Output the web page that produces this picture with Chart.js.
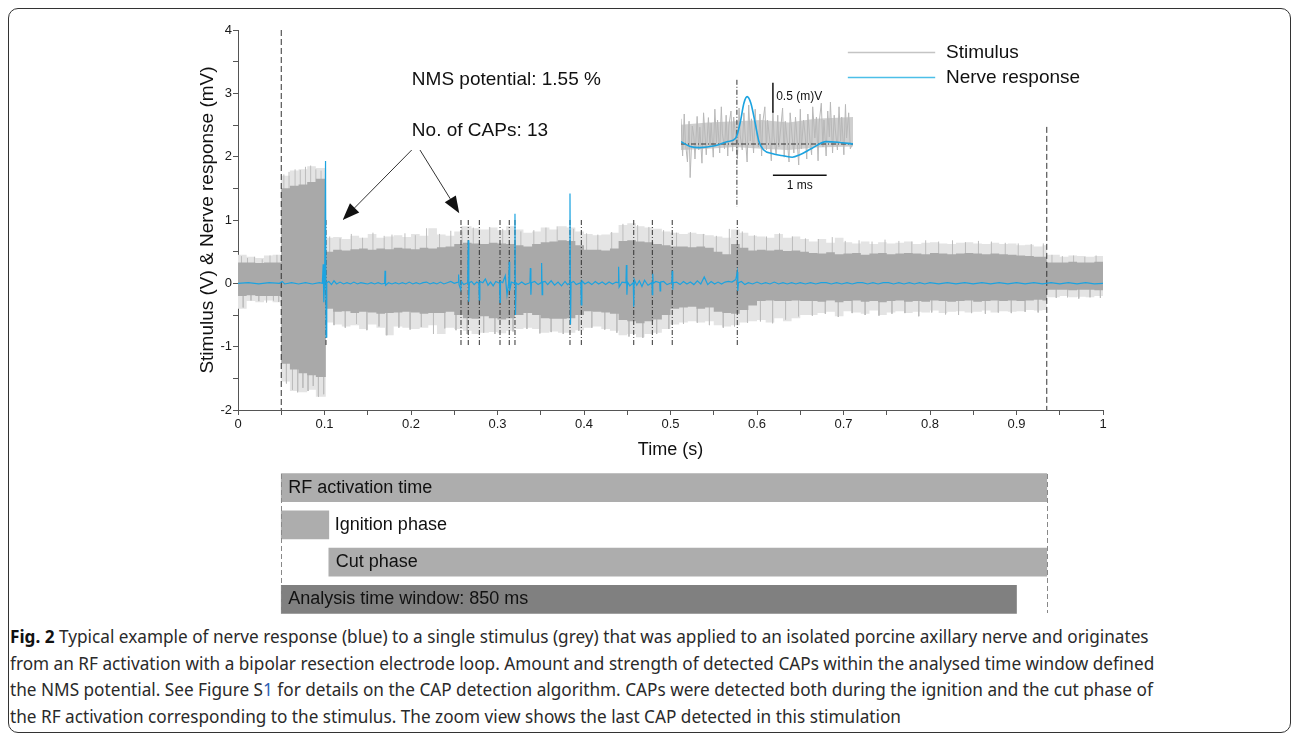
<!DOCTYPE html>
<html>
<head>
<meta charset="utf-8">
<script src="https://cdn.jsdelivr.net/npm/chart.js@4.4.0/dist/chart.umd.min.js"></script>
<style>
  html, body { margin: 0; padding: 0; background: #fff; }
  body { width: 1292px; height: 738px; position: relative; overflow: hidden; }
  .frame { position: absolute; left: 8px; top: 8px; width: 1283px; height: 725px; border: 1.5px solid #333; border-radius: 10px; box-sizing: border-box; }
  canvas { position: absolute; }
  #main { left: 0; top: 0; }
  #inset { left: 681px; top: 72px; }
  #phases { left: 0; top: 469px; }
  .caption { position: absolute; left: 10px; top: 624px; font-family: "Noto Sans", "Open Sans", sans-serif; font-size: 17.2px; line-height: 26.7px; color: #2a2a2a; white-space: nowrap; }
  .caption b { color: #111; }
  .caption .link { color: #2b5fb4; }
</style>
</head>
<body>
<div class="frame"></div>
<canvas id="main" width="1130" height="465"></canvas>
<canvas id="inset" width="172" height="144"></canvas>
<canvas id="phases" width="1130" height="149"></canvas>
<div class="caption"><b>Fig. 2</b> Typical example of nerve response (blue) to a single stimulus (grey) that was applied to an isolated porcine axillary nerve and originates<br>from an RF activation with a bipolar resection electrode loop. Amount and strength of detected CAPs within the analysed time window defined<br>the NMS potential. See Figure S<span class="link">1</span> for details on the CAP detection algorithm. CAPs were detected both during the ignition and the cut phase of<br>the RF activation corresponding to the stimulus. The zoom view shows the last CAP detected in this stimulation</div>

<script>
// ---- stimulus envelope (V) ----
const stimTime = [
  0, 0.01, 0.02, 0.03, 0.04,
  0.05, 0.06, 0.07, 0.08, 0.09,
  0.1015,
  0.11, 0.12, 0.13, 0.14, 0.15, 0.16, 0.17, 0.18, 0.19, 0.20,
  0.21, 0.22, 0.23, 0.24, 0.25, 0.26, 0.27, 0.28, 0.29, 0.30,
  0.31, 0.32, 0.33, 0.34, 0.35, 0.36, 0.37, 0.38, 0.39, 0.40,
  0.41, 0.42, 0.43, 0.44, 0.45, 0.46, 0.47, 0.48, 0.49, 0.50,
  0.51, 0.52, 0.53, 0.54, 0.55, 0.56, 0.57, 0.58, 0.59, 0.60,
  0.61, 0.62, 0.63, 0.64, 0.65, 0.66, 0.67, 0.68, 0.69, 0.70,
  0.71, 0.72, 0.73, 0.74, 0.75, 0.76, 0.77, 0.78, 0.79, 0.80,
  0.81, 0.82, 0.83, 0.84, 0.85, 0.86, 0.87, 0.88, 0.89, 0.90,
  0.91, 0.92, 0.93,
  0.935, 0.95, 0.96, 0.97, 0.98, 0.99, 1.0
];
const stimCoreHigh = [
  0.33, 0.33, 0.32, 0.33, 0.33,
  1.50, 1.54, 1.56, 1.60, 1.65,
  0.50,
  0.53, 0.52, 0.54, 0.55, 0.53, 0.55, 0.54, 0.56, 0.55, 0.54,
  0.56, 0.55, 0.57, 0.58, 0.62, 0.64, 0.63, 0.62, 0.64, 0.63,
  0.62, 0.60, 0.58, 0.62, 0.65, 0.66, 0.68, 0.67, 0.60, 0.53,
  0.53, 0.52, 0.55, 0.67, 0.68, 0.66, 0.65, 0.62, 0.60, 0.58,
  0.58, 0.57, 0.58, 0.56, 0.50, 0.46, 0.62, 0.56, 0.52, 0.53,
  0.52, 0.53, 0.51, 0.52, 0.50, 0.48, 0.47, 0.49, 0.46, 0.47,
  0.48, 0.45, 0.47, 0.48, 0.46, 0.47, 0.48, 0.47, 0.46, 0.48,
  0.47, 0.46, 0.47, 0.48, 0.47, 0.46, 0.47, 0.46, 0.45, 0.44,
  0.43, 0.42, 0.42,
  0.33, 0.33, 0.34, 0.33, 0.33, 0.34, 0.33
];
const stimCoreLow = [
  -0.20, -0.19, -0.20, -0.20, -0.20,
  -1.27, -1.36, -1.42, -1.45, -1.48,
  -0.40,
  -0.45, -0.44, -0.47, -0.45, -0.46, -0.48, -0.47, -0.46, -0.45, -0.46,
  -0.48, -0.47, -0.47, -0.45, -0.50, -0.55, -0.56, -0.52, -0.55, -0.57,
  -0.55, -0.50, -0.47, -0.50, -0.55, -0.56, -0.56, -0.55, -0.50, -0.44,
  -0.45, -0.46, -0.48, -0.58, -0.60, -0.63, -0.60, -0.57, -0.50, -0.40,
  -0.38, -0.37, -0.40, -0.38, -0.45, -0.47, -0.48, -0.42, -0.35, -0.28,
  -0.27, -0.28, -0.28, -0.27, -0.28, -0.28, -0.29, -0.27, -0.30, -0.28,
  -0.27, -0.29, -0.28, -0.30, -0.28, -0.27, -0.29, -0.28, -0.29, -0.27,
  -0.28, -0.29, -0.28, -0.27, -0.29, -0.28, -0.27, -0.28, -0.27, -0.28,
  -0.27, -0.26, -0.27,
  -0.10, -0.10, -0.11, -0.10, -0.10, -0.11, -0.10
];
const stimPeakHigh = [
  0.45, 0.42, 0.40, 0.44, 0.45,
  1.70, 1.78, 1.80, 1.85, 1.82,
  0.72,
  0.73, 0.70, 0.75, 0.72, 0.78, 0.72, 0.74, 0.76, 0.73, 0.78,
  0.75, 0.87, 0.77, 0.75, 0.82, 0.90, 0.87, 0.85, 0.88, 0.84,
  0.90, 0.85, 0.80, 0.82, 0.88, 0.85, 0.90, 0.88, 0.82, 0.78,
  0.76, 0.77, 0.80, 0.92, 0.95, 0.90, 0.88, 0.86, 0.82, 0.80,
  0.78, 0.80, 0.78, 0.76, 0.74, 0.72, 0.85, 0.80, 0.75, 0.74,
  0.72, 0.78, 0.72, 0.74, 0.70, 0.66, 0.70, 0.64, 0.72, 0.65,
  0.63, 0.66, 0.62, 0.65, 0.63, 0.64, 0.66, 0.62, 0.64, 0.65,
  0.63, 0.62, 0.64, 0.65, 0.63, 0.62, 0.64, 0.62, 0.63, 0.60,
  0.61, 0.58, 0.60,
  0.45, 0.42, 0.44, 0.43, 0.42, 0.43, 0.42
];
const stimPeakLow = [
  -0.40, -0.28, -0.30, -0.27, -0.30,
  -1.55, -1.70, -1.72, -1.68, -1.79,
  -0.62,
  -0.65, -0.68, -0.66, -0.72, -0.65, -0.70, -0.82, -0.68, -0.70, -0.72,
  -0.70, -0.66, -0.80, -0.70, -0.72, -0.75, -0.80, -0.78, -0.77, -0.79,
  -0.75, -0.72, -0.70, -0.72, -0.78, -0.76, -0.78, -0.78, -0.74, -0.70,
  -0.68, -0.72, -0.75, -0.82, -0.80, -0.85, -0.80, -0.78, -0.72, -0.65,
  -0.62, -0.60, -0.62, -0.60, -0.66, -0.68, -0.66, -0.62, -0.60, -0.58,
  -0.62, -0.55, -0.60, -0.55, -0.50, -0.50, -0.47, -0.45, -0.52, -0.44,
  -0.46, -0.48, -0.43, -0.50, -0.46, -0.44, -0.47, -0.45, -0.46, -0.43,
  -0.47, -0.45, -0.44, -0.46, -0.45, -0.43, -0.46, -0.44, -0.45, -0.44,
  -0.42, -0.43, -0.42,
  -0.22, -0.20, -0.22, -0.21, -0.22, -0.20, -0.20
];
// single outlying stimulus samples (s, V)
const spikeTime = [
  0.004, 0.006, 0.011, 0.015, 0.019, 0.024, 0.028, 0.033, 0.037, 0.041,
  0.045, 0.047, 0.053, 0.056, 0.059, 0.063, 0.066, 0.069, 0.072, 0.075,
  0.078, 0.081, 0.084, 0.087, 0.090, 0.093, 0.096, 0.099, 0.106, 0.111,
  0.118, 0.124, 0.131, 0.137, 0.144, 0.149, 0.156, 0.163, 0.169, 0.172,
  0.178, 0.186, 0.193, 0.199, 0.205, 0.212, 0.218, 0.226, 0.233, 0.239,
  0.246, 0.252, 0.259, 0.265, 0.272, 0.284, 0.291, 0.297, 0.306, 0.318,
  0.327, 0.334, 0.342, 0.349, 0.356, 0.362, 0.369, 0.376, 0.388, 0.394,
  0.403, 0.409, 0.416, 0.424, 0.432, 0.438, 0.445, 0.452, 0.462, 0.468,
  0.475, 0.484, 0.492, 0.498, 0.507, 0.515, 0.523, 0.531, 0.538, 0.545,
  0.553, 0.561, 0.568, 0.574, 0.583, 0.589, 0.597, 0.604, 0.611, 0.618,
  0.626, 0.633, 0.641, 0.648, 0.656, 0.664, 0.671, 0.679, 0.687, 0.694,
  0.702, 0.710, 0.718, 0.725, 0.733, 0.741, 0.748, 0.756, 0.764, 0.771,
  0.779, 0.787, 0.795, 0.802, 0.810, 0.818, 0.826, 0.833, 0.841, 0.848,
  0.856, 0.864, 0.871, 0.879, 0.887, 0.894, 0.902, 0.910, 0.917, 0.925,
  0.931, 0.941, 0.946, 0.953, 0.959, 0.966, 0.972, 0.979, 0.985, 0.992,
  0.997
];
const spikeValue = [
  0.43, -0.38, 0.40, -0.27, 0.42, -0.28, 0.38, -0.30, 0.44, -0.27,
  0.45, -0.29, 1.72, -1.58, 1.76, -1.68, 1.80, -1.72, 1.79, -1.65,
  1.84, -1.70, 1.86, -1.62, 1.80, -1.79, 1.78, -1.75, 0.74, -0.66,
  0.71, -0.70, 0.78, -0.64, 0.72, -0.74, 0.80, -0.68, 0.75, -0.82,
  0.77, -0.70, 0.79, -0.73, 0.76, -0.69, 0.87, -0.80, 0.78, -0.71,
  0.83, -0.74, 0.90, -0.80, 0.88, -0.78, 0.89, -0.80, 0.86, -0.76,
  0.82, -0.72, 0.84, -0.79, 0.88, -0.77, 0.90, -0.80, 0.86, -0.75,
  0.79, -0.70, 0.77, -0.73, 0.81, -0.78, 0.94, -0.84, 0.92, -0.86,
  0.89, -0.80, 0.84, -0.72, 0.80, -0.64, 0.81, -0.62, 0.78, -0.66,
  0.75, -0.70, 0.86, -0.68, 0.82, -0.62, 0.76, -0.60, 0.74, -0.63,
  0.79, -0.57, 0.74, -0.52, 0.71, -0.51, 0.70, -0.48, 0.73, -0.53,
  0.67, -0.47, 0.68, -0.50, 0.66, -0.51, 0.69, -0.48, 0.67, -0.47,
  0.66, -0.52, 0.68, -0.46, 0.66, -0.49, 0.68, -0.50, 0.65, -0.47,
  0.67, -0.48, 0.66, -0.46, 0.64, -0.47, 0.63, -0.45, 0.62, -0.46,
  0.63, 0.45, -0.23, 0.43, -0.22, 0.44, -0.24, 0.42, -0.22, 0.44,
  -0.23
];

// ---- nerve response (mV) ----
const nerveTime = [
  0.000, 0.012, 0.024, 0.036, 0.048, 0.051, 0.054, 0.062, 0.070, 0.078,
  0.086, 0.094, 0.0975, 0.0985, 0.0992, 0.1002, 0.1012, 0.1018, 0.1026, 0.105,
  0.108, 0.111, 0.114, 0.118, 0.122, 0.126, 0.130, 0.134, 0.138, 0.142,
  0.146, 0.150, 0.154, 0.158, 0.162, 0.166, 0.1695, 0.1700, 0.1706, 0.174,
  0.178, 0.182, 0.186, 0.190, 0.194, 0.198, 0.202, 0.206, 0.210, 0.214,
  0.218, 0.222, 0.226, 0.230, 0.234, 0.238, 0.242, 0.246, 0.250, 0.2545,
  0.2550, 0.2556, 0.2575, 0.2582, 0.261, 0.2656, 0.2662, 0.2668, 0.2675, 0.270,
  0.273, 0.276, 0.2785, 0.2790, 0.2796, 0.283, 0.286, 0.289, 0.292, 0.295,
  0.298, 0.3024, 0.3029, 0.3034, 0.306, 0.309, 0.311, 0.3130, 0.3136, 0.3141,
  0.3160, 0.3196, 0.3202, 0.3208, 0.3215, 0.324, 0.328, 0.332, 0.3375, 0.3380,
  0.3386, 0.3392, 0.343, 0.347, 0.3505, 0.3510, 0.3516, 0.3522, 0.355, 0.358,
  0.362, 0.366, 0.370, 0.374, 0.378, 0.381, 0.3832, 0.3838, 0.3844, 0.3850,
  0.388, 0.391, 0.3964, 0.3969, 0.3975, 0.401, 0.405, 0.409, 0.413, 0.417,
  0.421, 0.425, 0.429, 0.433, 0.437, 0.4395, 0.4400, 0.4406, 0.444, 0.4485,
  0.4490, 0.4496, 0.4503, 0.453, 0.4570, 0.4575, 0.4580, 0.461, 0.464, 0.467,
  0.470, 0.474, 0.4785, 0.4790, 0.4795, 0.4800, 0.483, 0.4875, 0.4880, 0.4886,
  0.492, 0.496, 0.5015, 0.5020, 0.5026, 0.5032, 0.507, 0.511, 0.515, 0.519,
  0.523, 0.527, 0.531, 0.535, 0.539, 0.543, 0.547, 0.551, 0.555, 0.559,
  0.563, 0.567, 0.571, 0.5755, 0.5772, 0.5778, 0.5785, 0.582, 0.586, 0.590,
  0.595, 0.600, 0.605, 0.610, 0.615, 0.620, 0.625, 0.630, 0.635, 0.640,
  0.645, 0.650, 0.656, 0.662, 0.668, 0.674, 0.680, 0.686, 0.692, 0.698,
  0.704, 0.710, 0.716, 0.722, 0.728, 0.734, 0.740, 0.746, 0.752, 0.758,
  0.764, 0.770, 0.776, 0.782, 0.788, 0.794, 0.800, 0.810, 0.820, 0.830,
  0.840, 0.850, 0.860, 0.870, 0.880, 0.890, 0.900, 0.910, 0.920, 0.930,
  0.940, 0.950, 0.960, 0.970, 0.980, 0.990, 1.000
];
const nerveValue = [
  0.00, 0.01, -0.01, 0.01, 0.00, 0.03, -0.01, 0.01, -0.01, 0.01,
  -0.01, 0.01, 0.00, 0.30, -0.30, 0.03, 1.93, -0.85, 0.01, 0.03,
  -0.02, 0.04, -0.01, 0.02, -0.01, 0.01, -0.01, 0.02, -0.01, 0.01,
  0.00, -0.01, 0.01, -0.01, 0.01, -0.01, 0.00, 0.20, -0.03, 0.01,
  -0.01, 0.01, -0.01, 0.01, -0.01, 0.02, -0.01, 0.01, -0.01, 0.01,
  0.02, -0.01, 0.01, -0.01, 0.02, -0.01, 0.01, 0.03, 0.00, 0.02,
  0.14, -0.02, -0.10, 0.03, -0.02, 0.01, 0.68, -0.29, 0.01, 0.03,
  -0.02, 0.02, 0.00, -0.26, 0.03, 0.01, 0.07, -0.03, 0.02, -0.04,
  0.03, 0.00, -0.30, 0.03, 0.01, 0.12, -0.18, 0.01, 0.34, -0.12,
  0.02, 0.00, 1.10, -0.50, 0.01, -0.02, 0.02, -0.02, 0.01, 0.24,
  -0.18, 0.01, 0.03, -0.02, 0.01, 0.32, -0.18, 0.02, 0.03, -0.02,
  0.04, -0.03, 0.02, -0.04, 0.03, -0.02, 0.00, 1.42, -0.65, 0.01,
  0.03, -0.02, 0.01, -0.34, 0.04, -0.01, 0.02, -0.02, 0.03, -0.01,
  0.02, -0.02, 0.02, -0.01, 0.02, 0.01, 0.26, -0.06, 0.02, 0.01,
  0.29, -0.18, 0.02, -0.04, 0.01, -0.37, 0.06, -0.03, 0.04, -0.05,
  0.05, -0.03, 0.01, -0.18, 0.15, 0.00, 0.03, 0.01, -0.12, 0.02,
  0.03, -0.02, 0.01, 0.20, -0.10, 0.01, 0.02, -0.02, 0.03, -0.01,
  0.02, -0.02, 0.04, -0.01, 0.10, -0.02, 0.03, -0.01, 0.02, -0.01,
  0.02, 0.03, 0.02, 0.06, 0.18, -0.12, 0.01, 0.03, -0.02, 0.01,
  -0.01, 0.02, -0.01, 0.01, -0.01, 0.02, -0.01, 0.01, -0.01, 0.01,
  -0.01, 0.01, -0.01, 0.01, -0.01, 0.01, 0.01, -0.01, 0.01, -0.01,
  0.01, -0.01, 0.01, 0.01, -0.01, 0.01, -0.01, 0.01, 0.01, -0.01,
  0.01, -0.01, 0.01, -0.01, 0.01, -0.01, 0.01, -0.01, 0.01, -0.01,
  0.01, -0.01, 0.01, -0.01, 0.01, -0.01, 0.01, -0.01, 0.01, -0.01,
  0.01, -0.01, 0.01, -0.01, 0.01, -0.01, 0.00
];

// detected CAPs (s) and analysis window bounds (s)
const capTime = [0.1017, 0.2578, 0.2662, 0.279, 0.3029, 0.3136, 0.3202, 0.3838, 0.3969, 0.4575, 0.479, 0.502, 0.5772];
const windowStart = 0.05;
const windowEnd = 0.935;

// ---- zoom view (ms, mV) ----
const insetTime = [0, 0.17, 0.35, 0.63, 0.87, 1.02, 1.10, 1.17, 1.23, 1.30, 1.38, 1.45, 1.54, 1.69, 1.93, 2.07, 2.21, 2.44, 2.70, 2.92, 3.20];
const insetNerve = [0.04, -0.04, -0.06, -0.03, 0.04, 0.10, 0.35, 0.68, 0.79, 0.68, 0.35, 0.04, -0.10, -0.16, -0.20, -0.22, -0.18, -0.07, 0.04, 0.03, 0.00];
const insetBandTime = [0, 0.5, 1.0, 1.5, 2.0, 2.5, 3.2];
const insetBandHigh = [0.32, 0.36, 0.38, 0.40, 0.36, 0.42, 0.45];
const insetBandLow = [-0.10, -0.08, -0.05, -0.08, -0.10, -0.06, -0.04];
const insetNoiseTime = [
  0.00, 0.03, 0.06, 0.08, 0.12, 0.15, 0.17, 0.21, 0.24, 0.26,
  0.30, 0.33, 0.35, 0.39, 0.42, 0.45, 0.47, 0.51, 0.54, 0.56,
  0.60, 0.63, 0.66, 0.68, 0.72, 0.75, 0.77, 0.81, 0.84, 0.87,
  0.89, 0.93, 0.96, 0.98, 1.02, 1.05, 1.08, 1.10, 1.14, 1.17,
  1.19, 1.23, 1.26, 1.29, 1.31, 1.35, 1.38, 1.40, 1.44, 1.47,
  1.50, 1.52, 1.56, 1.59, 1.61, 1.65, 1.68, 1.71, 1.73, 1.77,
  1.80, 1.82, 1.86, 1.89, 1.92, 1.94, 1.98, 2.01, 2.03, 2.07,
  2.10, 2.13, 2.15, 2.19, 2.22, 2.24, 2.28, 2.31, 2.34, 2.36,
  2.40, 2.43, 2.45, 2.49, 2.52, 2.55, 2.57, 2.61, 2.64, 2.66,
  2.70, 2.73, 2.76, 2.78, 2.82, 2.85, 2.87, 2.91, 2.94, 2.97,
  2.99, 3.03, 3.06, 3.08, 3.12, 3.15, 3.20
];
const insetNoise = [
  0.42, -0.20, 0.50, 0.05, -0.30, 0.38, -0.56, 0.30, 0.12, -0.25,
  0.46, -0.10, 0.28, -0.32, 0.52, 0.10, -0.18, 0.44, -0.05, 0.35,
  -0.22, 0.58, 0.02, 0.40, -0.15, 0.62, 0.18, -0.08, 0.48, -0.20,
  0.30, 0.55, -0.12, 0.45, 0.08, -0.25, 0.60, 0.15, -0.10, 0.52,
  0.20, -0.30, 0.65, 0.05, 0.42, -0.15, 0.58, 0.22, -0.05, 0.50,
  -0.20, 0.35, 0.62, -0.10, 0.40, 0.08, -0.28, 0.55, 0.12, -0.18,
  0.48, -0.05, 0.30, 0.60, -0.22, 0.38, 0.02, -0.30, 0.52, 0.10,
  -0.15, 0.45, 0.20, -0.35, 0.58, -0.08, 0.40, 0.15, -0.25, 0.50,
  0.05, -0.18, 0.62, 0.10, 0.45, -0.28, 0.35, 0.68, -0.05, 0.40,
  -0.20, 0.55, 0.12, 0.70, -0.15, 0.48, 0.25, -0.10, 0.62, 0.05,
  0.45, -0.18, 0.66, 0.10, 0.52, -0.08, 0.02
];
const insetCapTime = 1.04;

// ---- timeline phases (s) ----
const phaseNames = ['RF activation time', 'Ignition phase', 'Cut phase', 'Analysis time window: 850 ms'];
const phaseStart = [0.05, 0.05, 0.105, 0.05];
const phaseEnd = [0.935, 0.105, 0.935, 0.90];

Chart.defaults.font.family = '"Liberation Sans", Arial, sans-serif';
Chart.defaults.color = '#1a1a1a';

const BLUE = '#1ba3e0';
const pts = (xs, ys) => xs.map((x, i) => ({x, y: ys[i]}));

// vertical strokes from a base level, broken by gaps
function strokes(times, from, to) {
  const out = [];
  times.forEach((t, i) => {
    const a = Array.isArray(from) ? from[i] : from;
    const b = Array.isArray(to) ? to[i] : to;
    out.push({x: t, y: a}, {x: t, y: b}, {x: t, y: null});
  });
  return out;
}

function drawArrow(ctx, x1, y1, x2, y2) {
  const ang = Math.atan2(y2 - y1, x2 - x1);
  const len = 17, half = 6.5;
  const bx = x2 - len * Math.cos(ang), by = y2 - len * Math.sin(ang);
  ctx.beginPath();
  ctx.moveTo(x1, y1);
  ctx.lineTo(bx, by);
  ctx.stroke();
  ctx.beginPath();
  ctx.moveTo(x2, y2);
  ctx.lineTo(bx + half * Math.sin(ang), by - half * Math.cos(ang));
  ctx.lineTo(bx - half * Math.sin(ang), by + half * Math.cos(ang));
  ctx.closePath();
  ctx.fill();
}

// text, arrows and legend of the main panel
const mainNotes = {
  id: 'mainNotes',
  afterDatasetsDraw(chart, args, opts) {
    const {ctx, scales: {x, y}} = chart;
    ctx.save();
    ctx.fillStyle = '#111';
    ctx.strokeStyle = '#333';
    ctx.lineWidth = 1;
    ctx.textBaseline = 'middle';
    ctx.font = '19px "Liberation Sans", Arial, sans-serif';
    opts.notes.forEach(n => ctx.fillText(n.text, x.getPixelForValue(n.x), y.getPixelForValue(n.y)));
    opts.arrows.forEach(a => drawArrow(ctx,
      x.getPixelForValue(a.from[0]), y.getPixelForValue(a.from[1]),
      x.getPixelForValue(a.to[0]), y.getPixelForValue(a.to[1])));

    // legend
    const lg = opts.legend;
    const x0 = x.getPixelForValue(lg.lineFrom), x1 = x.getPixelForValue(lg.lineTo), xt = x.getPixelForValue(lg.textAt);
    lg.items.forEach(item => {
      const ds = chart.data.datasets[item.dataset];
      const yy = Math.round(y.getPixelForValue(item.y)) + 0.5;
      ctx.strokeStyle = item.color;
      ctx.lineWidth = 1.5;
      ctx.beginPath();
      ctx.moveTo(x0, yy);
      ctx.lineTo(x1, yy);
      ctx.stroke();
      ctx.fillStyle = '#111';
      ctx.fillText(ds.label, xt, yy);
    });
    ctx.restore();
  }
};

new Chart(document.getElementById('main'), {
  type: 'line',
  data: {
    datasets: [
      {
        label: 'Nerve response',
        data: pts(nerveTime, nerveValue),
        borderColor: BLUE, borderWidth: 1.2, pointRadius: 0, order: 0
      },
      {
        label: 'CAP markers',
        data: strokes(capTime, 1, -1),
        borderColor: '#333', borderWidth: 1, borderDash: [5, 2, 1, 2], pointRadius: 0, order: 1
      },
      {
        label: 'Analysis window',
        data: [{x: windowStart, y: 4}, {x: windowStart, y: -2}, {x: windowStart, y: null},
               {x: windowEnd, y: 2.47}, {x: windowEnd, y: -2}],
        borderColor: '#333', borderWidth: 1, borderDash: [6, 3], pointRadius: 0, order: 1
      },
      {
        label: 'Stimulus',
        data: pts(stimTime, stimCoreHigh),
        stepped: true, fill: '+1', backgroundColor: '#a9a9a9',
        borderColor: 'rgba(0,0,0,0)', borderWidth: 0, pointRadius: 0, order: 2
      },
      {
        label: 'Stimulus low',
        data: pts(stimTime, stimCoreLow),
        stepped: true, borderColor: 'rgba(0,0,0,0)', borderWidth: 0, pointRadius: 0, order: 2
      },
      {
        label: 'Stimulus spikes',
        data: strokes(spikeTime, 0, spikeValue),
        borderColor: '#bdbdbd', borderWidth: 1, pointRadius: 0, order: 3
      },
      {
        label: 'Stimulus peaks',
        data: pts(stimTime, stimPeakHigh),
        stepped: true, fill: '+1', backgroundColor: '#e4e4e4',
        borderColor: 'rgba(0,0,0,0)', borderWidth: 0, pointRadius: 0, order: 4
      },
      {
        label: 'Stimulus peaks low',
        data: pts(stimTime, stimPeakLow),
        stepped: true, borderColor: 'rgba(0,0,0,0)', borderWidth: 0, pointRadius: 0, order: 4
      }
    ]
  },
  options: {
    responsive: false,
    animation: false,
    devicePixelRatio: 1,
    layout: { padding: { left: 192, top: 30, right: 27, bottom: 0 } },
    plugins: {
      legend: { display: false },
      tooltip: { enabled: false },
      mainNotes: {
        notes: [
          { text: 'NMS potential: 1.55 %', x: 0.201, y: 3.21 },
          { text: 'No. of CAPs: 13', x: 0.201, y: 2.41 }
        ],
        arrows: [
          { from: [0.2008, 2.105], to: [0.121, 1.0] },
          { from: [0.2104, 2.105], to: [0.2558, 1.105] }
        ],
        legend: {
          lineFrom: 0.705, lineTo: 0.806, textAt: 0.8185,
          items: [
            { dataset: 3, y: 3.657, color: '#c4c4c4' },
            { dataset: 0, y: 3.262, color: '#4cbfe8' }
          ]
        }
      }
    },
    scales: {
      x: {
        type: 'linear', min: 0, max: 1,
        afterFit: s => { s.height = 55; },
        ticks: {
          stepSize: 0.05, autoSkip: false, maxRotation: 0, padding: 2,
          font: { size: 13 },
          callback: v => Math.abs(v * 10 - Math.round(v * 10)) < 1e-6 ? String(Math.round(v * 10) / 10) : ''
        },
        grid: { drawOnChartArea: false, drawTicks: true, tickLength: 5, color: '#555' },
        border: { display: true, color: '#555', width: 1 },
        title: { display: true, text: 'Time (s)', font: { size: 18 }, color: '#111' }
      },
      y: {
        type: 'linear', min: -2, max: 4,
        afterFit: s => { s.width = 46; },
        ticks: {
          stepSize: 0.5, autoSkip: false, padding: 1,
          font: { size: 13 },
          callback: v => Math.abs(v - Math.round(v)) < 1e-6 ? String(Math.round(v)) : ''
        },
        grid: { drawOnChartArea: false, drawTicks: true, tickLength: 5, color: '#555' },
        border: { display: true, color: '#555', width: 1 },
        title: { display: true, text: 'Stimulus (V) & Nerve response (mV)', font: { size: 19 }, color: '#111' }
      }
    }
  },
  plugins: [mainNotes]
});

// ---- zoom view ----
const insetNotes = {
  id: 'insetNotes',
  afterDatasetsDraw(chart, args, opts) {
    const {ctx, scales: {x, y}} = chart;
    ctx.save();
    ctx.fillStyle = '#111';
    ctx.font = '12px "Liberation Sans", Arial, sans-serif';
    ctx.textBaseline = 'middle';
    opts.labels.forEach(l => {
      ctx.textAlign = l.align;
      ctx.fillText(l.text, x.getPixelForValue(l.x), y.getPixelForValue(l.y));
    });
    ctx.restore();
  }
};

new Chart(document.getElementById('inset'), {
  type: 'line',
  data: {
    datasets: [
      {
        data: pts(insetTime, insetNerve),
        borderColor: BLUE, borderWidth: 1.6, pointRadius: 0, cubicInterpolationMode: 'monotone', order: 0
      },
      {
        data: [{x: 0, y: 0}, {x: 3.2, y: 0}],
        borderColor: '#333', borderWidth: 1, borderDash: [5, 2, 1, 2], pointRadius: 0, order: 1
      },
      {
        data: [{x: insetCapTime, y: 1.07}, {x: insetCapTime, y: -1.05}],
        borderColor: '#333', borderWidth: 1, borderDash: [5, 2, 1, 2], pointRadius: 0, order: 1
      },
      {
        data: [{x: 1.71, y: 0.52}, {x: 1.71, y: 1.02}],
        borderColor: '#111', borderWidth: 1.5, pointRadius: 0, order: 1
      },
      {
        data: [{x: 1.71, y: -0.52}, {x: 2.71, y: -0.52}],
        borderColor: '#111', borderWidth: 1.5, pointRadius: 0, order: 1
      },
      {
        data: pts(insetNoiseTime, insetNoise),
        borderColor: '#b8b8b8', borderWidth: 1, pointRadius: 0, order: 2
      },
      {
        data: pts(insetBandTime, insetBandHigh),
        fill: '+1', backgroundColor: '#cfcfcf',
        borderColor: 'rgba(0,0,0,0)', borderWidth: 0, pointRadius: 0, order: 3
      },
      {
        data: pts(insetBandTime, insetBandLow),
        borderColor: 'rgba(0,0,0,0)', borderWidth: 0, pointRadius: 0, order: 3
      }
    ]
  },
  options: {
    responsive: false,
    animation: false,
    devicePixelRatio: 1,
    layout: { padding: 0 },
    plugins: {
      legend: { display: false },
      tooltip: { enabled: false },
      insetNotes: {
        labels: [
          { text: '0.5 (m)V', x: 1.77, y: 0.79, align: 'left' },
          { text: '1 ms', x: 2.21, y: -0.70, align: 'center' }
        ]
      }
    },
    scales: {
      x: { type: 'linear', min: 0, max: 3.2, display: false },
      y: { type: 'linear', min: -1.2, max: 1.2, display: false }
    }
  },
  plugins: [insetNotes]
});

// ---- timeline of the RF activation ----
const phaseNotes = {
  id: 'phaseNotes',
  afterDatasetsDraw(chart) {
    const {ctx, chartArea, scales: {x}} = chart;
    ctx.save();
    ctx.strokeStyle = '#888';
    ctx.lineWidth = 1;
    ctx.setLineDash([5, 3]);
    [windowStart, windowEnd].forEach(t => {
      const px = Math.round(x.getPixelForValue(t)) + 0.5;
      ctx.beginPath();
      ctx.moveTo(px, chartArea.top + 5);
      ctx.lineTo(px, chartArea.bottom - 5);
      ctx.stroke();
    });
    ctx.setLineDash([]);
    ctx.fillStyle = '#111';
    ctx.font = '18px "Liberation Sans", Arial, sans-serif';
    ctx.textBaseline = 'middle';
    chart.getDatasetMeta(0).data.forEach((bar, i) => {
      const left = Math.min(bar.x, bar.base), right = Math.max(bar.x, bar.base);
      const tx = right - left < 80 ? right + 6 : left + 7;
      ctx.fillText(chart.data.labels[i], tx, bar.y);
    });
    ctx.restore();
  }
};

new Chart(document.getElementById('phases'), {
  type: 'bar',
  data: {
    labels: phaseNames,
    datasets: [{
      data: phaseStart.map((s, i) => [s, phaseEnd[i]]),
      backgroundColor: ['#adadad', '#adadad', '#adadad', '#808080'],
      borderWidth: 0,
      borderSkipped: false,
      barThickness: 28
    }]
  },
  options: {
    indexAxis: 'y',
    responsive: false,
    animation: false,
    devicePixelRatio: 1,
    layout: { padding: { left: 238, right: 27, top: 0, bottom: 0 } },
    plugins: { legend: { display: false }, tooltip: { enabled: false } },
    scales: {
      x: { type: 'linear', min: 0, max: 1, display: false },
      y: { display: false }
    }
  },
  plugins: [phaseNotes]
});
</script>
</body>
</html>
